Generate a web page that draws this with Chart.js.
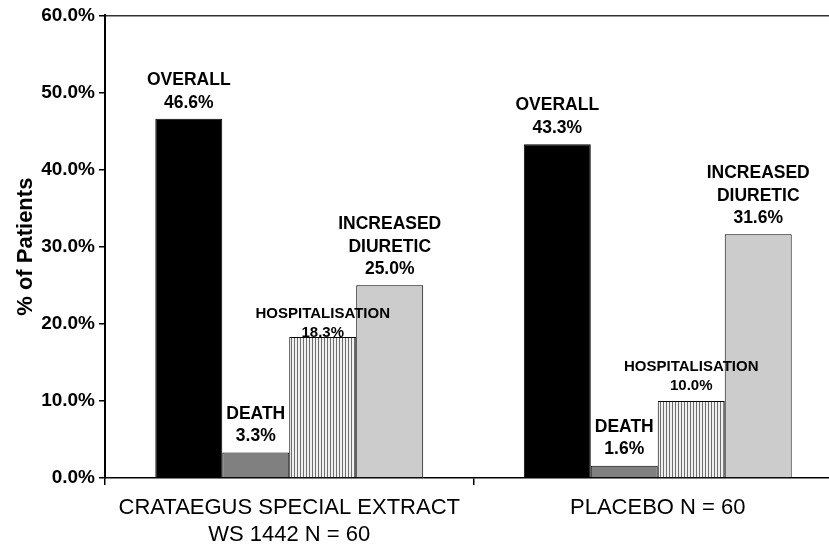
<!DOCTYPE html>
<html>
<head>
<meta charset="utf-8">
<script src="https://cdn.jsdelivr.net/npm/chart.js@4.4.1/dist/chart.umd.min.js"></script>
<style>
  html, body { margin: 0; padding: 0; background: #fff; overflow: hidden; }
  #wrap { width: 842px; height: 549px; }
</style>
</head>
<body>
<div id="wrap"><canvas id="chart" width="842" height="549"></canvas></div>
<script>
// data
const groups = [['CRATAEGUS SPECIAL EXTRACT', 'WS 1442 N = 60'], 'PLACEBO N = 60'];
const seriesNames = ['OVERALL', 'DEATH', 'HOSPITALISATION', 'INCREASED DIURETIC'];
const overall = [46.6, 43.3];
const death = [3.3, 1.6];
const hospitalisation = [18.3, 10.0];
const increasedDiuretic = [25.0, 31.6];
const yMax = 60;
const yStep = 10;

// vertical stripes for the hospitalisation bars
function stripes() {
  const c = document.createElement('canvas');
  c.width = 3; c.height = 3;
  const g = c.getContext('2d');
  g.fillStyle = '#f0f0f0';
  g.fillRect(0, 0, 3, 3);
  g.fillStyle = '#6e6e6e';
  g.fillRect(0, 0, 1, 3);
  return g.createPattern(c, 'repeat');
}

const ctx = document.getElementById('chart').getContext('2d');

// how the text above each bar is set
const labelStyle = [
  { lines: ['OVERALL'], size: 17.5, gap: [16, 16], step: 22.5 },
  { lines: ['DEATH'], size: 17.5, gap: [16, 16], step: 22.5 },
  { lines: ['HOSPITALISATION'], size: 15, gap: [4, 15], step: 19.5 },
  { lines: ['INCREASED', 'DIURETIC'], size: 17.5, gap: [16, 16], step: 22.5 }
];

const barLabels = {
  id: 'barLabels',
  afterDatasetsDraw(chart) {
    const c = chart.ctx;
    c.save();
    c.fillStyle = '#000';
    c.textAlign = 'center';
    c.textBaseline = 'middle';
    chart.data.datasets.forEach((ds, i) => {
      const st = labelStyle[i];
      chart.getDatasetMeta(i).data.forEach((bar, j) => {
        c.font = 'bold ' + st.size + 'px "Liberation Sans", Arial, sans-serif';
        let y = bar.y - st.gap[j];
        c.fillText(ds.data[j].toFixed(1) + '%', bar.x, y);
        for (let k = st.lines.length - 1; k >= 0; k--) {
          y -= st.step;
          c.fillText(st.lines[k], bar.x, y);
        }
      });
    });
    c.restore();
  }
};

const chartData = {
  labels: groups,
  datasets: [
    { label: seriesNames[0], data: overall, backgroundColor: '#000000' },
    { label: seriesNames[1], data: death, backgroundColor: '#808080' },
    { label: seriesNames[2], data: hospitalisation, backgroundColor: stripes() },
    { label: seriesNames[3], data: increasedDiuretic, backgroundColor: '#cccccc' }
  ].map(d => Object.assign(d, {
    borderColor: '#000',
    borderWidth: 1,
    borderSkipped: 'bottom',
    categoryPercentage: 0.727,
    barPercentage: 1.0
  }))
};

new Chart(ctx, {
  type: 'bar',
  data: chartData,
  plugins: [barLabels],
  options: {
    responsive: false,
    animation: false,
    devicePixelRatio: 1,
    layout: { padding: { top: 14, left: 0, right: 0, bottom: 0 } },
    plugins: {
      legend: { display: false },
      tooltip: { enabled: false }
    },
    scales: {
      x: {
        offset: true,
        grid: {
          offset: true,
          drawOnChartArea: false,
          drawTicks: true,
          tickLength: 7,
          color: '#000',
          lineWidth: 1.5
        },
        border: { color: '#000', width: 1.5 },
        ticks: {
          color: '#000',
          padding: 9,
          maxRotation: 0,
          autoSkip: false,
          font: { family: '"Liberation Sans", Arial, sans-serif', size: 22, lineHeight: 1.25 }
        },
        afterFit(scale) { scale.height = 71; }
      },
      y: {
        min: 0,
        max: yMax,
        ticks: {
          stepSize: yStep,
          color: '#000',
          padding: 4,
          font: { family: '"Liberation Sans", Arial, sans-serif', size: 19, weight: 'bold' },
          callback: v => v.toFixed(1) + '%'
        },
        grid: {
          drawOnChartArea: true,
          drawTicks: true,
          tickLength: 6,
          tickColor: '#000',
          tickWidth: 1.5,
          color: c => (c.tick && c.tick.value === yMax) ? '#333' : 'rgba(0,0,0,0)',
          lineWidth: 1.5
        },
        border: { color: '#000', width: 2 },
        title: {
          display: true,
          text: '% of Patients',
          color: '#000',
          padding: { top: 13, bottom: 0 },
          font: { family: '"Liberation Sans", Arial, sans-serif', size: 22, weight: 'bold' }
        },
        afterFit(scale) { scale.width = 105; }
      }
    }
  }
});
</script>
</body>
</html>
